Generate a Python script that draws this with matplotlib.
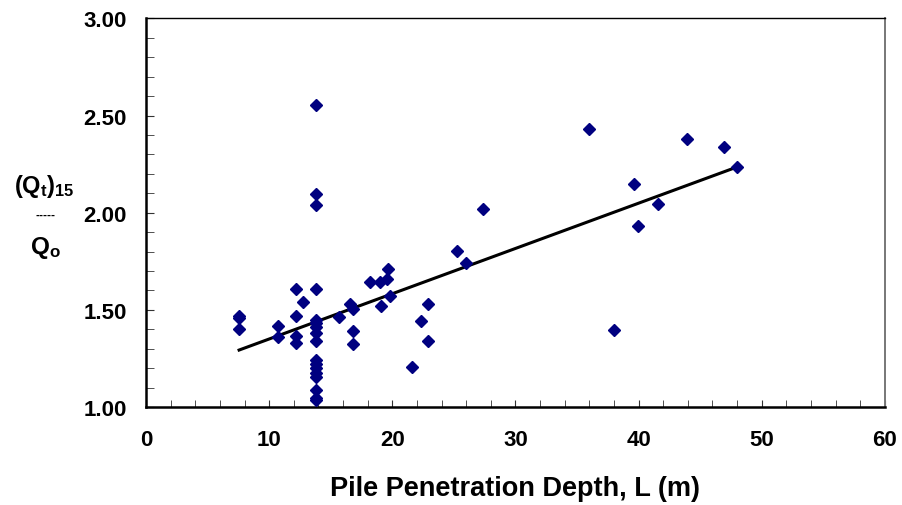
import matplotlib
matplotlib.use("Agg")
import matplotlib.pyplot as plt
from matplotlib.ticker import MultipleLocator, FormatStrFormatter

plt.rcParams["font.family"] = ["Liberation Sans", "DejaVu Sans"]
plt.rcParams["font.weight"] = "bold"
plt.rcParams["mathtext.fontset"] = "custom"
plt.rcParams["mathtext.rm"] = "Liberation Sans:bold"
plt.rcParams["mathtext.bf"] = "Liberation Sans:bold"

# measured piles: penetration depth L (m) and (Qt)15 / Qo
depth = [7.55, 7.55, 7.55, 10.7, 10.7, 12.15, 12.15, 12.15, 12.15, 12.77,
         13.8, 13.8, 13.8, 13.8, 13.8, 13.8, 13.8, 13.8, 13.8, 13.8,
         13.8, 13.8, 13.8, 13.8, 13.8, 13.8, 13.8,
         15.67, 16.56, 16.78, 16.78, 16.78, 18.18, 18.99, 19.07, 19.59,
         19.67, 19.81, 21.57, 22.3, 22.87, 22.87, 25.27, 25.97, 27.33,
         35.96, 38.01, 39.63, 39.96, 41.58, 43.97, 46.97, 48.03]
ratio = [1.47, 1.46, 1.40, 1.418, 1.362, 1.607, 1.466, 1.367, 1.329, 1.542,
         2.556, 2.097, 2.038, 1.607, 1.449, 1.41, 1.379, 1.341, 1.242, 1.22,
         1.20, 1.175, 1.153, 1.087, 1.045, 1.036, 1.43,
         1.462, 1.530, 1.504, 1.390, 1.324, 1.645, 1.645, 1.522, 1.659,
         1.710, 1.573, 1.207, 1.441, 1.530, 1.338, 1.805, 1.741, 2.018,
         2.431, 1.398, 2.148, 1.930, 2.045, 2.381, 2.337, 2.236]

# end points of the fitted trend line
trend_x = [7.55, 48.03]
trend_y = [1.293, 2.236]

fig = plt.figure(figsize=(9.02, 5.06), dpi=100)
ax = fig.add_axes([0.162, 0.1937, 0.819, 0.768])

ax.plot(depth, ratio, linestyle="none", marker="D", markersize=6.5,
        color="#000080", zorder=3)
ax.plot(trend_x, trend_y, color="black", linewidth=2.2, zorder=2)

ax.set_xlim(0, 60)
ax.set_ylim(1.0, 3.0)
ax.xaxis.set_major_locator(MultipleLocator(10))
ax.xaxis.set_minor_locator(MultipleLocator(2))
ax.yaxis.set_major_locator(MultipleLocator(0.5))
ax.yaxis.set_minor_locator(MultipleLocator(0.1))
ax.yaxis.set_major_formatter(FormatStrFormatter("%.2f"))

ax.tick_params(axis="both", which="both", direction="in", labelsize=16,
               color="#333333")
ax.tick_params(axis="x", which="both", length=5, pad=16)
ax.tick_params(axis="y", which="both", length=6, pad=14)
for lab in ax.get_xticklabels() + ax.get_yticklabels():
    lab.set_fontweight("bold")

ax.spines["left"].set_linewidth(1.8)
ax.spines["bottom"].set_linewidth(1.8)
ax.spines["top"].set_linewidth(1.0)
ax.spines["right"].set_linewidth(1.4)
ax.spines["right"].set_color("#777777")

ax.set_xlabel("Pile Penetration Depth, L (m)", fontsize=19.5,
              fontweight="bold", labelpad=18)

# stacked y label: (Qt)15 over Qo
fig.text(0.049, 0.632, r"$\mathbf{(Q_{t})_{15}}$", fontsize=17,
         ha="center", va="center")
fig.text(0.05, 0.573, "-----", fontsize=8.5, ha="center", va="center")
fig.text(0.05, 0.510, r"$\mathbf{Q_{o}}$", fontsize=17.5,
         ha="center", va="center")

fig.savefig("out.png", dpi=100)
